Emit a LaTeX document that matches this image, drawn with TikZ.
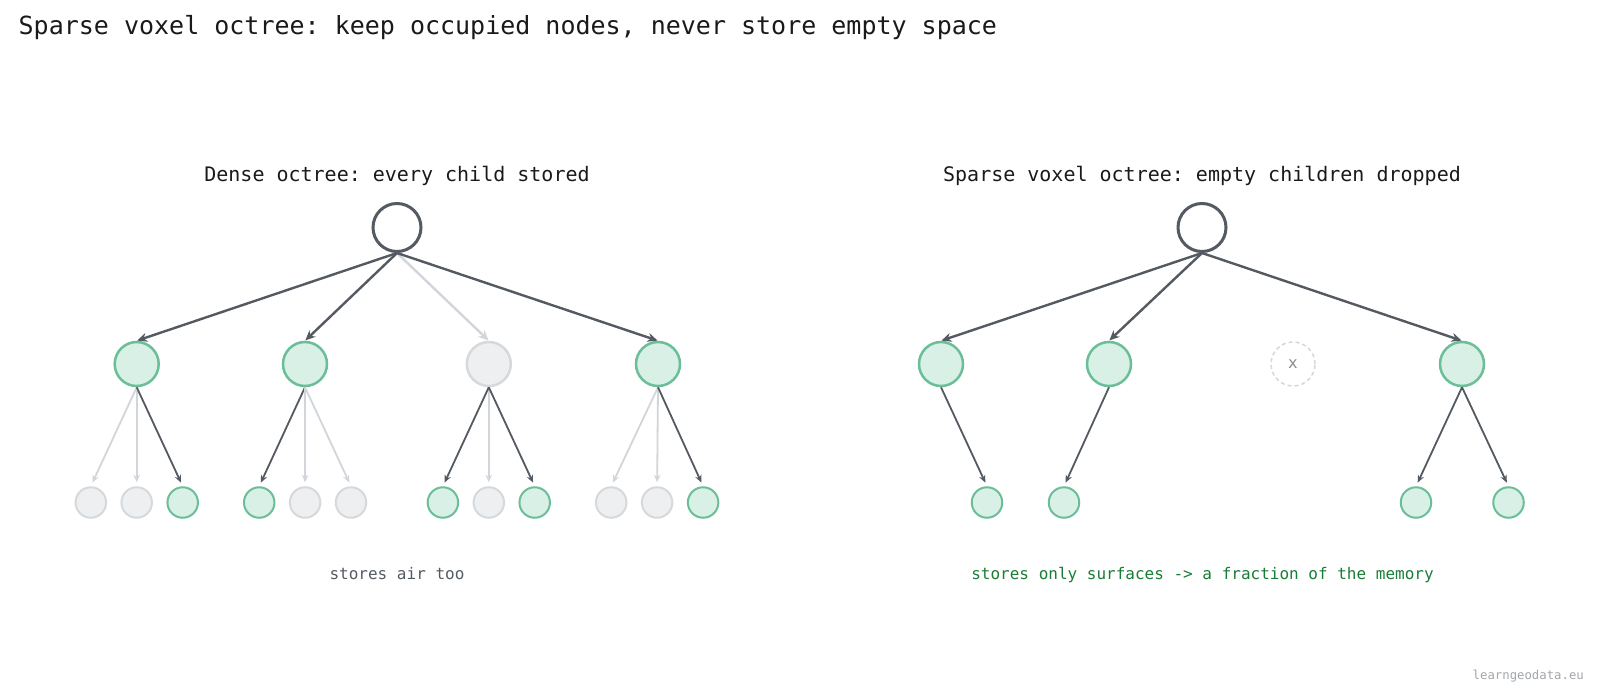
\documentclass[tikz,border=0pt]{standalone}
\usepackage{fontspec}
\setmonofont{DejaVu Sans Mono}
\usetikzlibrary{arrows.meta}
\definecolor{dk}{RGB}{84,90,98}
\definecolor{gst}{RGB}{108,190,152}
\definecolor{gfl}{RGB}{216,240,230}
\definecolor{efl}{RGB}{238,239,240}
\definecolor{est}{RGB}{214,217,220}
\definecolor{la}{RGB}{210,213,217}
\definecolor{capg}{RGB}{26,125,55}
\definecolor{capd}{RGB}{85,91,98}
\definecolor{wm}{RGB}{163,167,171}
\definecolor{ttl}{RGB}{26,26,26}
\tikzset{
  rootn/.style={circle,draw=dk,line width=3pt,fill=white,minimum size=48pt,inner sep=0pt},
  occ/.style={circle,draw=gst,fill=gfl,line width=2.5pt,minimum size=44pt,inner sep=0pt},
  emp/.style={circle,draw=est,fill=efl,line width=2.5pt,minimum size=44pt,inner sep=0pt},
  occs/.style={circle,draw=gst,fill=gfl,line width=2pt,minimum size=30.5pt,inner sep=0pt},
  emps/.style={circle,draw=est,fill=efl,line width=2pt,minimum size=30.5pt,inner sep=0pt},
  gone/.style={circle,draw=est,dashed,dash pattern=on 4pt off 3pt,line width=1.6pt,minimum size=44pt,inner sep=0pt,text=dk!70,font=\ttfamily\fontsize{16}{18}\selectfont},
  topdk/.style={draw=dk,line width=2.4pt,-{Stealth[length=10pt,width=9pt]},shorten >=0.5pt},
  toplt/.style={draw=la,line width=2.4pt,-{Stealth[length=10pt,width=9pt]},shorten >=0.5pt},
  lowdk/.style={draw=dk,line width=1.8pt,-{Stealth[length=7.5pt,width=6.5pt]},shorten >=4pt},
  lowlt/.style={draw=la,line width=1.8pt,-{Stealth[length=7.5pt,width=6.5pt]},shorten >=4pt},
  ttlfont/.style={font=\ttfamily\fontsize{25}{30}\selectfont,text=ttl},
  subfont/.style={font=\ttfamily\fontsize{20}{24}\selectfont,text=ttl},
  capfont/.style={font=\ttfamily\fontsize{16}{19}\selectfont},
}
\begin{document}
\begin{tikzpicture}[x=1pt,y=-1pt]
\useasboundingbox[fill=white] (0,0) rectangle (1600,698);
\node[ttlfont,anchor=base west,inner sep=0pt] (title) at (18.5,35) {Sparse voxel octree: keep occupied nodes, never store empty space};
\node[subfont,anchor=base,inner sep=0pt] (subL) at (397,181) {Dense octree: every child stored};
\node[subfont,anchor=base,inner sep=0pt] (subR) at (1202,181) {Sparse voxel octree: empty children dropped};

% left tree
\node[rootn] (rL) at (397,227.5) {};
\node[occ] (a1) at (136.7,364) {};
\node[occ] (a2) at (305,364) {};
\node[emp] (a3) at (488.8,364) {};
\node[occ] (a4) at (658,364) {};
\node[emps] (b1) at (90.8,502.5) {};
\node[emps] (b2) at (136.7,502.5) {};
\node[occs] (b3) at (182.7,502.5) {};
\node[occs] (b4) at (259.2,502.5) {};
\node[emps] (b5) at (305.1,502.5) {};
\node[emps] (b6) at (351,502.5) {};
\node[occs] (b7) at (442.9,502.5) {};
\node[emps] (b8) at (488.8,502.5) {};
\node[occs] (b9) at (534.7,502.5) {};
\node[emps] (b10) at (611.2,502.5) {};
\node[emps] (b11) at (657.1,502.5) {};
\node[occs] (b12) at (703.1,502.5) {};
\draw[toplt] (rL.south) -- (a3.north);
\draw[topdk] (rL.south) -- (a1.north);
\draw[topdk] (rL.south) -- (a2.north);
\draw[topdk] (rL.south) -- (a4.north);
\draw[lowlt] (a1.south) -- (b1.north);
\draw[lowlt] (a1.south) -- (b2.north);
\draw[lowdk] (a1.south) -- (b3.north);
\draw[lowdk] (a2.south) -- (b4.north);
\draw[lowlt] (a2.south) -- (b5.north);
\draw[lowlt] (a2.south) -- (b6.north);
\draw[lowlt] (a3.south) -- (b8.north);
\draw[lowdk] (a3.south) -- (b7.north);
\draw[lowdk] (a3.south) -- (b9.north);
\draw[lowlt] (a4.south) -- (b10.north);
\draw[lowlt] (a4.south) -- (b11.north);
\draw[lowdk] (a4.south) -- (b12.north);

% right tree
\node[rootn] (rR) at (1202,227.5) {};
\node[occ] (c1) at (941,364) {};
\node[occ] (c2) at (1109,364) {};
\node[gone] (c3) at (1293,364) {x};
\node[occ] (c4) at (1462,364) {};
\node[occs] (d1) at (987,502.5) {};
\node[occs] (d2) at (1064,502.5) {};
\node[occs] (d3) at (1416,502.5) {};
\node[occs] (d4) at (1508.5,502.5) {};
\draw[topdk] (rR.south) -- (c1.north);
\draw[topdk] (rR.south) -- (c2.north);
\draw[topdk] (rR.south) -- (c4.north);
\draw[lowdk] (c1.south) -- (d1.north);
\draw[lowdk] (c2.south) -- (d2.north);
\draw[lowdk] (c4.south) -- (d3.north);
\draw[lowdk] (c4.south) -- (d4.north);

\node[capfont,text=capd,anchor=base,inner sep=0pt] (capL) at (397,579.5) {stores air too};
\node[capfont,text=capg,anchor=base,inner sep=0pt] (capR) at (1202.5,579.5) {stores only surfaces -> a fraction of the memory};
\node[font=\ttfamily\fontsize{12.3}{14}\selectfont,text=wm,anchor=base east,inner sep=0pt] (wmk) at (1584,679.5) {learngeodata.eu};
\end{tikzpicture}
\end{document}
